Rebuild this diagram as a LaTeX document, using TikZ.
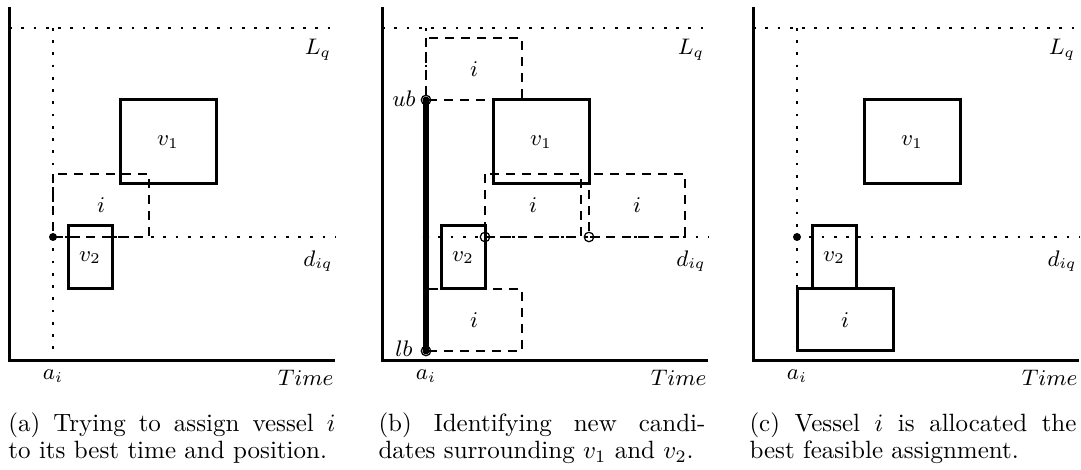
\documentclass[tikz,border=0pt]{standalone}
\begin{document}
\begin{tikzpicture}[x=0.4pt,y=-0.4pt,
  axis/.style={line width=1.2pt, line join=miter},
  guide/.style={line width=1.1pt, dash pattern=on 1.1pt off 3.8pt},
  vbox/.style={line width=1.2pt},
  cand/.style={line width=1.1pt, dash pattern=on 3.6pt off 2.8pt},
  bound/.style={line width=2.3pt},
  lbl/.style={font=\small, inner sep=0pt},
  subcap/.style={font=\fontsize{10}{11}\selectfont, text width=130.8pt,
              align=justify, anchor=north west, inner sep=0pt}]
\useasboundingbox (0,0) rectangle (1081,470);

% common frame of the three panels
\foreach \p/\off in {a/0,b/373,c/744}{
  \begin{scope}[shift={(\off,0)}]
    \coordinate (\p-top) at (9,7);
    \coordinate (\p-org) at (9,361);
    \coordinate (\p-end) at (335,361);
    \coordinate (\p-Lw) at (9,28);
    \coordinate (\p-Le) at (335,28);
    \coordinate (\p-at) at (53,28);
    \coordinate (\p-ab) at (53,361);
    \coordinate (\p-dw) at (53,237);
    \coordinate (\p-de) at (335,237);
    \draw[guide] (\p-Lw) -- (\p-Le);
    \draw[guide] (\p-at) -- (\p-ab);
    \draw[guide] (\p-dw) -- (\p-de);
    \draw[axis] (\p-top) -- (\p-org) -- (\p-end);
    \draw[vbox] (120,100) rectangle (216,184);
    \draw[vbox] (68,226) rectangle (112,289);
    \node[lbl] (\p-v1) at (168,142) {$v_1$};
    \node[lbl] (\p-v2) at (90,257.5) {$v_2$};
    \node[lbl] (\p-L) at (318,50) {$L_q$};
    \node[lbl] (\p-d) at (318,261) {$d_{iq}$};
    \node[lbl] (\p-a) at (53,376) {$a_i$};
    \node[lbl,anchor=east] (\p-t) at (334,378) {$Time$};
  \end{scope}
}

% (a) first attempt for vessel i
\draw[cand] (53,174) rectangle (149,237);
\node[lbl] (a-i) at (101,205.5) {$i$};
\fill (a-dw) circle (1.6pt);

% (b) candidates around v1 and v2
\begin{scope}[shift={(373,0)}]
  \draw[cand] (53,38) rectangle (149,100);
  \draw[cand] (112,174) rectangle (208,237);
  \draw[cand] (216,174) rectangle (312,237);
  \draw[cand] (53,289) rectangle (149,351);
  \node[lbl] (b-i1) at (101,69) {$i$};
  \node[lbl] (b-i2) at (160,205.5) {$i$};
  \node[lbl] (b-i3) at (264,205.5) {$i$};
  \node[lbl] (b-i4) at (101,320) {$i$};
  \coordinate (b-ub) at (53,100);
  \coordinate (b-lb) at (53,351);
  \coordinate (b-c1) at (112,237);
  \coordinate (b-c2) at (216,237);
  \draw[bound] (b-ub) -- (b-lb);
  \fill (b-ub) circle (1.4pt);
  \fill (b-dw) circle (1.3pt);
  \fill (b-lb) circle (1.4pt);
  \draw[line width=0.5pt] (b-ub) circle (1.9pt);
  \draw[line width=0.5pt] (b-lb) circle (1.9pt);
  \draw[line width=0.5pt] (b-c1) circle (1.9pt);
  \draw[line width=0.5pt] (b-c2) circle (1.9pt);
  \node[lbl,anchor=east] (b-ubl) at (43,99) {$ub$};
  \node[lbl,anchor=east] (b-lbl) at (40,349) {$lb$};
\end{scope}

% (c) final allocation
\begin{scope}[shift={(744,0)}]
  \draw[vbox] (53,289) rectangle (149,351);
  \node[lbl] (c-i) at (101,320) {$i$};
\end{scope}
\fill (c-dw) circle (1.6pt);

% sub-captions
\node[subcap] (capa) at (8,412) {(a) Trying to assign vessel $i$\linebreak to its best time and position.};
\node[subcap] (capb) at (378,412) {(b) Identifying new candi-\linebreak dates surrounding $v_1$ and $v_2$.};
\node[subcap] (capc) at (749,412) {(c) Vessel $i$ is allocated the\linebreak best feasible assignment.};
\end{tikzpicture}
\end{document}
